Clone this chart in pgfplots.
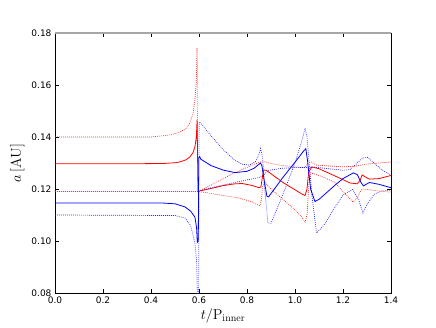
\documentclass[border=0pt]{standalone}
\usepackage[no-math]{fontspec}
\usepackage{pgfplots}
\pgfplotsset{compat=1.18}
\newfontfamily\tickfont{DejaVu Sans}

\begin{document}
\begin{tikzpicture}
\useasboundingbox (-55pt,-34pt) rectangle (381pt,293pt);
\begin{axis}[
  scale only axis,
  width=336pt, height=260pt,
  xmin=0, xmax=1.4, ymin=0.08, ymax=0.18,
  xtick={0,0.2,...,1.4},
  ytick={0.08,0.10,0.12,0.14,0.16,0.18},
  xticklabel style={/pgf/number format/fixed, /pgf/number format/fixed zerofill,
                    /pgf/number format/precision=1},
  yticklabel style={/pgf/number format/fixed, /pgf/number format/fixed zerofill,
                    /pgf/number format/precision=2},
  /pgf/number format/assume math mode=true,
  tick label style={font=\tickfont\fontsize{9}{10}\selectfont},
  major tick length=4pt,
  tick style={line width=0.6pt, black},
  axis line style={line width=0.8pt},
  xlabel={$t/\mathrm{P}_{\mathrm{inner}}$},
  ylabel={$a\,[\mathrm{AU}]$},
  label style={font=\fontsize{14}{16}\selectfont},
  xlabel style={yshift=2pt},
  clip=true,
]
% blue dotted (first lower branch)
\addplot[blue!85, line width=0.7pt, dash pattern=on 0.8pt off 1.2pt] coordinates {
  (0,0.1100) (0.50,0.1098) (0.542,0.1088) (0.565,0.1060) (0.583,0.0992)
  (0.590,0.0920) (0.594,0.075) (0.598,0.075) (0.600,0.1192)
  (0.65,0.1205) (0.70,0.1215) (0.75,0.1225) (0.80,0.1235) (0.855,0.1245)
  (0.87,0.1255) (0.89,0.1272) (0.95,0.1280) (1.00,0.1282) (1.05,0.1283)
  (1.08,0.1284) (1.12,0.1280) (1.20,0.1272) (1.23,0.1275) (1.26,0.1300)
  (1.28,0.1318) (1.30,0.1323) (1.33,0.1300) (1.36,0.1275) (1.40,0.1254)
};
% blue dotted (first upper branch)
\addplot[blue!85, line width=0.7pt, dash pattern=on 0.8pt off 1.2pt] coordinates {
  (0,0.1190) (0.598,0.1190) (0.601,0.1458) (0.61,0.1450) (0.65,0.1405)
  (0.70,0.1352) (0.75,0.1310) (0.78,0.1295) (0.81,0.1292) (0.835,0.1305)
  (0.85,0.1335) (0.857,0.1356) (0.865,0.1320) (0.875,0.1190) (0.887,0.1070)
  (0.90,0.1068) (0.95,0.1180) (1.00,0.1300) (1.03,0.1390) (1.042,0.1434)
  (1.05,0.1400) (1.07,0.1180) (1.09,0.1031) (1.12,0.1060) (1.16,0.1120)
  (1.20,0.1177) (1.24,0.1198) (1.265,0.1160) (1.283,0.1108) (1.30,0.1140)
  (1.33,0.1180) (1.36,0.1192) (1.40,0.1196)
};
% red dotted (first lower branch)
\addplot[red!85, line width=0.7pt, dash pattern=on 0.8pt off 1.2pt] coordinates {
  (0,0.1190) (0.60,0.1190) (0.65,0.1183) (0.70,0.1175) (0.77,0.1165)
  (0.82,0.1150) (0.854,0.1135) (0.860,0.1160) (0.866,0.1210) (0.872,0.1227)
  (0.90,0.1200) (0.95,0.1160) (1.00,0.1120) (1.03,0.1090) (1.042,0.1073)
  (1.05,0.1100) (1.058,0.1220) (1.065,0.1262) (1.08,0.1258) (1.12,0.1245)
  (1.167,0.1225) (1.20,0.1190) (1.242,0.1150) (1.26,0.1165) (1.27,0.1188)
  (1.28,0.1200) (1.30,0.1198) (1.35,0.1192) (1.40,0.1188)
};
% red dotted (first upper branch)
\addplot[red!85, line width=0.7pt, dash pattern=on 0.8pt off 1.2pt] coordinates {
  (0,0.1400) (0.40,0.1400) (0.48,0.1408) (0.52,0.1419) (0.545,0.1432)
  (0.562,0.1454) (0.575,0.1490) (0.583,0.1542) (0.589,0.1620) (0.592,0.1742)
  (0.595,0.1195) (0.60,0.1192) (0.65,0.1215) (0.70,0.1240) (0.75,0.1263)
  (0.80,0.1283) (0.855,0.1304) (0.87,0.1305) (0.90,0.1298) (0.95,0.1290)
  (1.00,0.1285) (1.04,0.1283) (1.055,0.1300) (1.065,0.1305) (1.09,0.1292)
  (1.15,0.1288) (1.20,0.1285) (1.25,0.1288) (1.30,0.1296) (1.35,0.1300)
  (1.40,0.1304)
};
% red solid
\addplot[red, line width=0.8pt] coordinates {
  (0,0.1297) (0.30,0.1297) (0.45,0.1298) (0.50,0.1301) (0.52,0.1304)
  (0.545,0.1312) (0.562,0.1323) (0.575,0.1340) (0.583,0.1362) (0.589,0.1400)
  (0.592,0.1465) (0.596,0.1190) (0.60,0.1192) (0.65,0.1202) (0.70,0.1213)
  (0.75,0.1220) (0.78,0.1221) (0.82,0.1214) (0.85,0.1205) (0.858,0.1208)
  (0.865,0.1250) (0.870,0.1273) (0.88,0.1272) (0.95,0.1225) (1.00,0.1197)
  (1.03,0.1180) (1.042,0.1175) (1.05,0.1200) (1.057,0.1265) (1.07,0.1285)
  (1.10,0.1278) (1.167,0.1250) (1.23,0.1223) (1.26,0.1220) (1.272,0.1235)
  (1.28,0.1254) (1.29,0.1248) (1.31,0.1238) (1.35,0.1240) (1.40,0.1252)
};
% blue solid
\addplot[blue, line width=0.8pt] coordinates {
  (0,0.1146) (0.45,0.1146) (0.50,0.1143) (0.542,0.1131) (0.565,0.1115)
  (0.583,0.1092) (0.590,0.1050) (0.593,0.0995) (0.597,0.1000) (0.599,0.1320)
  (0.603,0.1325) (0.607,0.1315) (0.65,0.1290) (0.70,0.1273) (0.75,0.1263)
  (0.80,0.1268) (0.83,0.1280) (0.856,0.1300) (0.862,0.1290) (0.872,0.1230)
  (0.883,0.1172) (0.89,0.1170) (0.95,0.1245) (1.00,0.1303) (1.035,0.1345)
  (1.045,0.1355) (1.052,0.1310) (1.065,0.1200) (1.083,0.1152) (1.10,0.1160)
  (1.167,0.1215) (1.20,0.1240) (1.243,0.1262) (1.26,0.1255) (1.275,0.1225)
  (1.285,0.1212) (1.31,0.1225) (1.35,0.1218) (1.40,0.1205)
};
\draw[gray!70, line width=1.2pt] (rel axis cs:0,1) -- (rel axis cs:1,1);
\end{axis}
\end{tikzpicture}
\end{document}
